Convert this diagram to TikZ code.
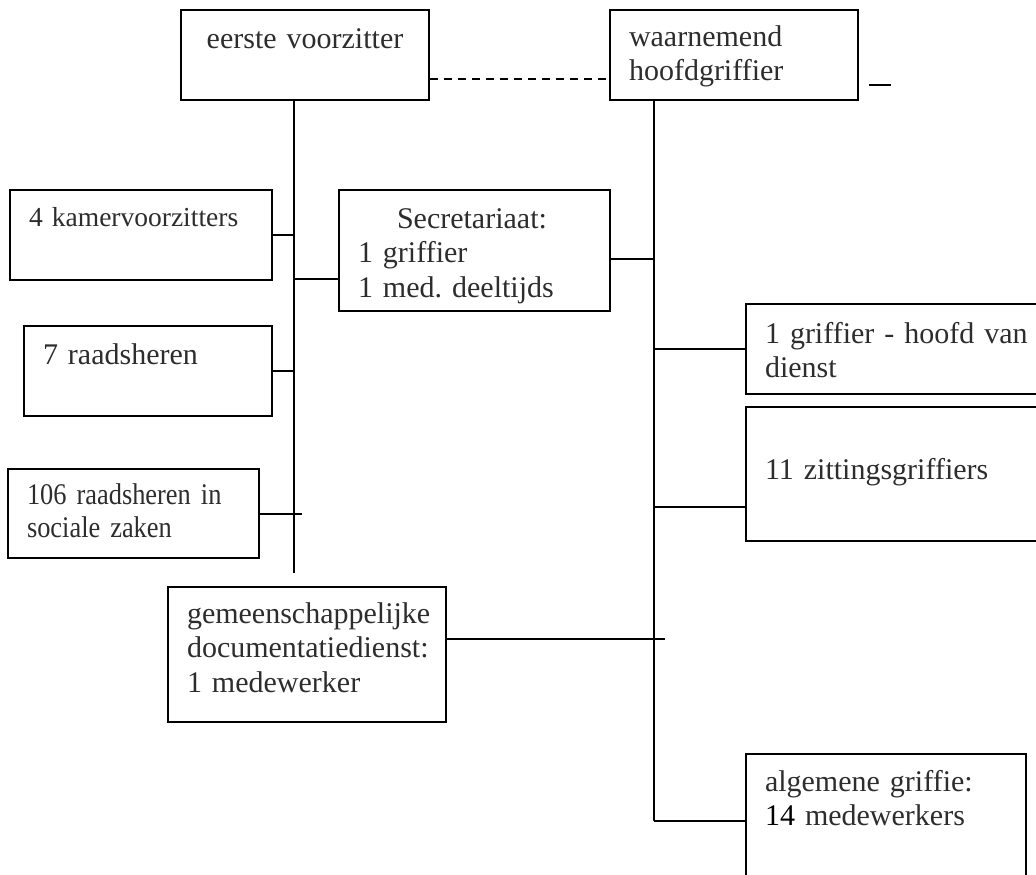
\documentclass[tikz,border=0pt]{standalone}
\usepackage{fontspec}
\setmainfont{Liberation Serif}
\newfontfamily\narrowserif[FakeStretch=0.88]{Liberation Serif}
\usetikzlibrary{positioning,calc}
\definecolor{inkgray}{RGB}{45,45,45}
\frenchspacing

\begin{document}
\begin{tikzpicture}[
    x=0.5pt, y=-0.5pt,
    box/.style={draw, line width=1pt, anchor=north west, inner xsep=9.5pt, inner ysep=0pt, align=left, text=inkgray, font=\fontsize{15pt}{17.25pt}\selectfont},
    link/.style={line width=1pt},
    dashlink/.style={line width=1pt, dash pattern=on 4pt off 3pt},
]
\clip (0,0) rectangle (1036,874);
\node[box, align=center, text width=105pt, text height=19pt, text depth=26pt] (voorz) at (180,9) {eerste voorzitter};
\node[box, text width=105pt, text height=18pt, text depth=27pt] (hoofd) at (609,9) {waarnemend\\hoofdgriffier};
\node[box, font=\fontsize{13.75pt}{16pt}\selectfont, text width=112pt, text height=18pt, text depth=27pt] (kamer) at (9,189) {4 kamervoorzitters};
\node[box, text width=105pt, text height=19pt, text depth=26pt] (raad) at (23,325) {7 raadsheren};
\node[box, font=\narrowserif\fontsize{15pt}{16.5pt}\selectfont, text width=106.5pt, text height=17.5pt, text depth=27pt] (sociaal) at (7,468) {106 raadsheren in\\sociale zaken};
\node[box, text width=116.5pt, text height=19pt, text depth=41.5pt] (sec) at (338,189) {\hspace*{19.5pt}Secretariaat:\\1 griffier\\1 med. deeltijds};
\node[box, text width=120pt, text height=18pt, text depth=49.5pt] (doc) at (167,586) {gemeenschappelijke\\documentatiedienst:\\1 medewerker};
\node[box, text width=141pt, text height=19.5pt, text depth=25.5pt] (griffier) at (745,303) {1 griffier - hoofd van\\dienst};
\node[box, text width=141pt, text height=36pt, text depth=31pt] (zitting) at (745,406) {11 zittingsgriffiers};
\node[box, text width=121pt, text height=18.5pt, text depth=51.5pt] (alg) at (745,753) {algemene griffie:\\\textcolor{black}{14} medewerkers};
\coordinate (lend) at (294,573);
\coordinate (rend) at (654,821);
\draw[link] (voorz.south -| lend) -- (lend);
\draw[link] (hoofd.south -| rend) -- (rend);
\draw[dashlink] ($(voorz.south east)+(0,-22)$) -- ($(hoofd.south west)+(0,-22)$);
\draw[link] ($(hoofd.south east)+(10,-16)$) -- ++(22,0);
\draw[link] (kamer.east) -- (kamer.east -| lend);
\draw[link] (raad.east) -- (raad.east -| lend);
\draw[link] (sociaal.east) -- ($(sociaal.east -| lend)+(8,0)$);
\draw[link] ($(sec.south west)+(0,-33)$) -- ($(sec.south west -| lend)+(0,-33)$);
\draw[link] ($(sec.east)+(0,8)$) -- ($(sec.east -| rend)+(0,8)$);
\draw[link] ($(doc.east)+(0,-16)$) -- ($(doc.east -| rend)+(11,-16)$);
\draw[link] (griffier.west) -- (griffier.west -| rend);
\draw[link] ($(zitting.south west)+(0,-35)$) -- ($(zitting.south west -| rend)+(0,-35)$);
\draw[link] (rend) -- (rend -| alg.west);
\end{tikzpicture}
\end{document}
